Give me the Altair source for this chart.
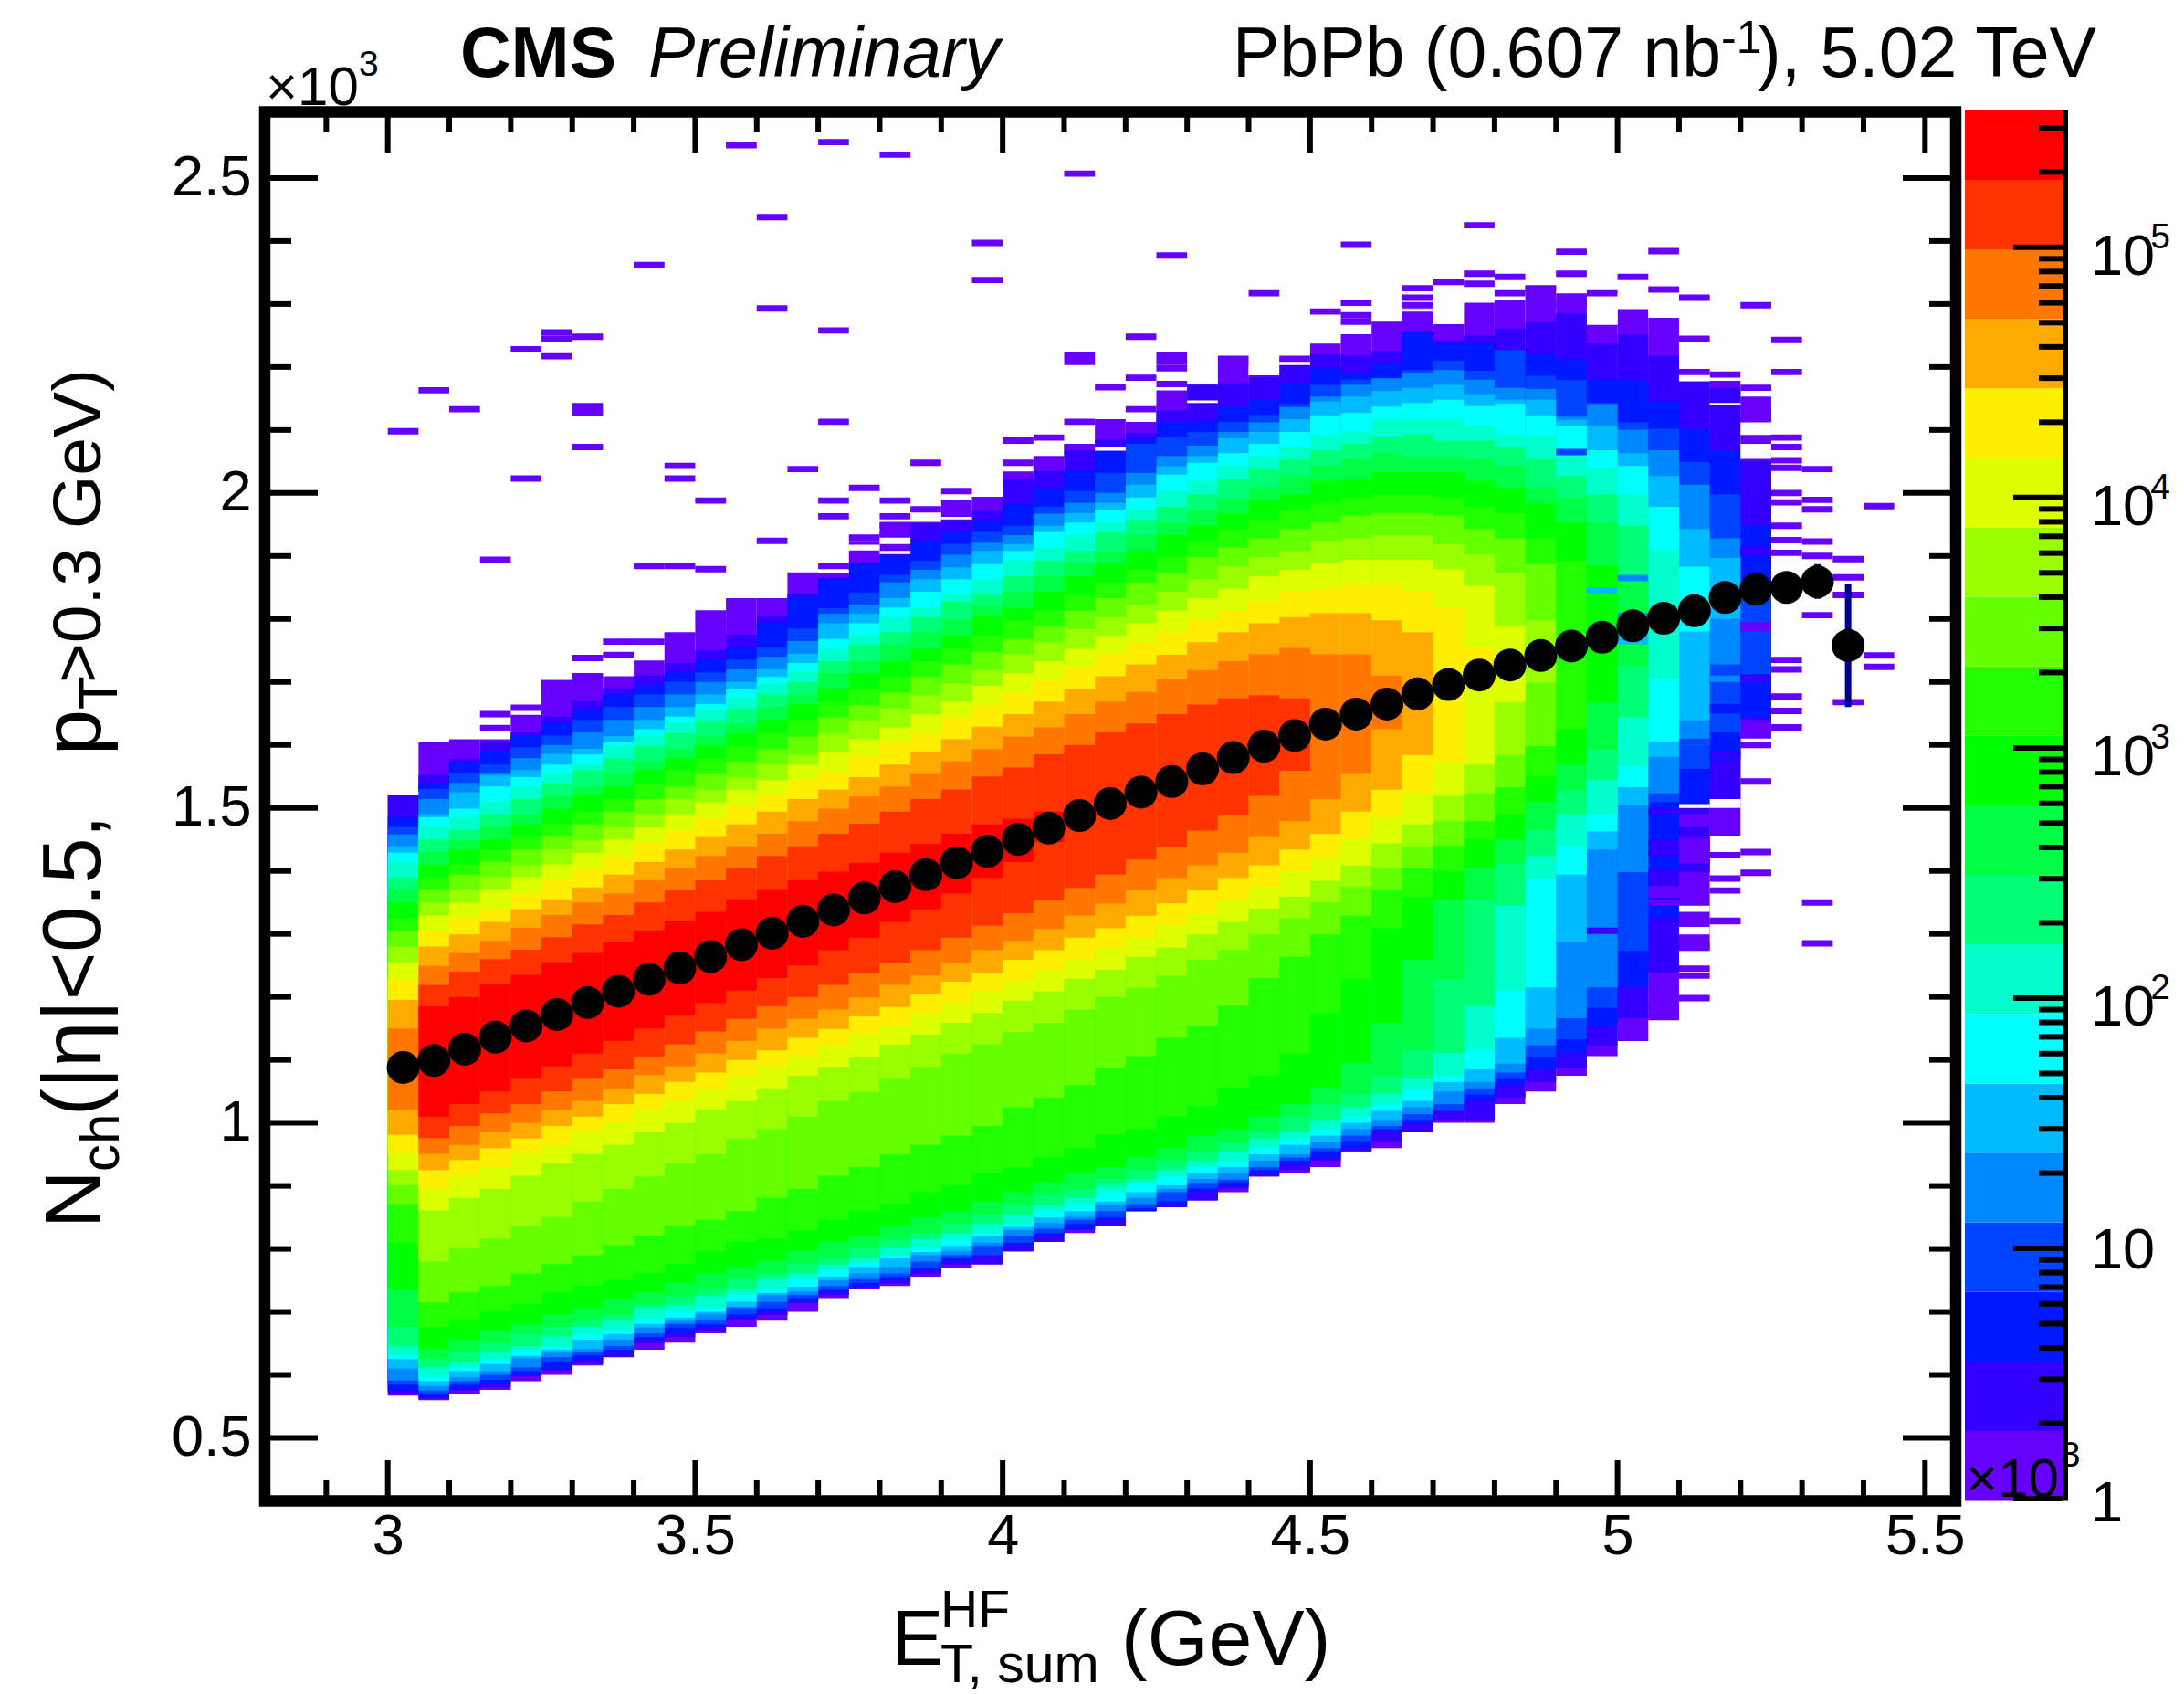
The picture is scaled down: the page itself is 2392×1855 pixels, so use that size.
import altair as alt
import pandas as pd

FONT = "Liberation Sans"
PALETTE = ["#6600ff", "#3300ff", "#0018ff", "#0044ff", "#0088ff", "#00bbff", "#00ffff", "#00ffcc",
           "#00ff77", "#00ff44", "#00ff00", "#22ff00", "#66ff00", "#99ff00", "#ddff00", "#ffee00",
           "#ffaa00", "#ff7700", "#ff3300", "#ff0000"]

# Each level: first column (bin of 0.05 from 3.0), upper and lower Nch edge per column.
U01 = [1525,1604,1609,1609,1648,1703,1714,1709,1734,1778,1814,1833,1833,1874,1874,1909,1954,1954,1988,1994,2034,2059,2078,2117,2113,2163,2172,2218,2187,2218,2237,2252,2272,2292,2290,2302,2307,2328,2317,2267,2292,2278,2177,2178,2153]
L01 = [567,560,570,576,590,600,615,630,640,651,666,676,686,700,722,736,741,756,770,775,796,811,825,836,860,866,877,890,915,920,930,955,960,985,1000,1000,1030,1050,1075,1106,1130,1166,1273,1456,1610]
U02 = [1520,1552,1578,1605,1620,1645,1670,1690,1710,1730,1750,1775,1805,1840,1866,1890,1905,1952,1957,1972,2022,2035,2068,2085,2095,2131,2172,2174,2184,2203,2220,2218,2225,2232,2242,2250,2261,2271,2285,2237,2252,2218,2177,2167,2051]
L02 = [570,562,575,580,598,607,620,628,650,660,670,688,695,715,727,738,745,760,775,776,796,811,831,836,860,866,877,896,915,925,940,955,971,985,1005,1005,1040,1065,1087,1123,1166,1239,1398,1514,1640]
U03 = [1485,1538,1572,1588,1615,1635,1655,1680,1695,1715,1735,1755,1795,1835,1863,1887,1900,1925,1938,1957,1982,2008,2035,2066,2085,2112,2114,2136,2148,2173,2198,2191,2206,2256,2237,2237,2227,2220,2213,2180,2179,2145,2102,2068,1948]
L03 = [575,565,578,586,600,610,625,635,656,666,676,691,701,715,732,740,750,766,780,790,806,820,831,845,860,871,891,900,920,935,945,960,985,1000,1019,1035,1060,1085,1111,1152,1215,1326,1504,1576,1644]
U04 = [1470,1530,1555,1569,1596,1615,1640,1660,1680,1700,1715,1735,1755,1785,1817,1842,1870,1892,1919,1938,1948,1978,2003,2032,2078,2088,2097,2113,2124,2141,2172,2180,2182,2195,2210,2194,2227,2186,2179,2143,2112,2102,2049,1998,1850]
L04 = [585,570,585,592,606,621,631,640,660,675,680,696,706,722,735,746,755,770,785,790,810,825,840,850,865,876,896,906,925,940,955,971,990,1005,1019,1045,1070,1104,1133,1183,1273,1509,1562,1620,1700]
U05 = [1458,1514,1540,1555,1579,1600,1620,1640,1660,1680,1700,1720,1740,1765,1808,1823,1858,1878,1902,1921,1933,1967,1984,2000,2032,2059,2075,2097,2112,2136,2153,2172,2182,2191,2195,2180,2167,2165,2121,2141,2100,2068,2013,1928]
L05 = [591,575,590,600,612,628,636,646,666,681,687,706,716,727,741,752,761,780,790,805,820,832,846,860,871,890,905,910,930,945,960,980,995,1014,1030,1055,1080,1123,1166,1215,1398,1523,1600,1728]
U06 = [1439,1490,1525,1552,1560,1586,1594,1614,1640,1660,1680,1700,1720,1745,1793,1808,1833,1863,1882,1908,1919,1948,1968,1984,2013,2043,2059,2087,2097,2117,2145,2153,2162,2167,2172,2157,2148,2148,2116,2107,2063,2027,1943,1897]
L06 = [610,582,596,606,626,636,641,656,675,686,696,708,727,732,750,761,771,790,796,810,830,841,851,870,881,895,911,920,940,950,970,990,1005,1025,1050,1065,1094,1150,1287,1434,1504,1581,1639,1800]
U07 = [1429,1485,1499,1534,1549,1569,1585,1604,1625,1645,1665,1688,1708,1730,1768,1793,1818,1843,1863,1887,1908,1938,1953,1973,1993,2029,2048,2063,2078,2097,2123,2127,2137,2143,2148,2138,2142,2123,2107,2068,2043,1978,1883]
L07 = [625,590,606,617,630,640,656,665,681,691,700,716,730,740,756,771,785,795,805,820,835,850,860,875,890,901,920,930,950,965,980,1000,1019,1035,1065,1085,1135,1215,1394,1463,1533,1605,1780]
U08 = [1414,1470,1485,1510,1534,1555,1569,1599,1615,1635,1655,1675,1697,1717,1752,1773,1803,1818,1839,1863,1893,1913,1933,1953,1973,2003,2019,2043,2058,2073,2092,2098,2117,2117,2117,2107,2092,2092,2068,2039,1998,1909]
L08 = [631,597,612,625,640,645,665,671,690,700,706,727,737,752,766,778,790,801,815,825,840,860,871,890,905,915,930,940,960,975,990,1010,1030,1055,1075,1116,1210,1388,1440,1490,1567,1706]
U09 = [1390,1450,1465,1490,1515,1539,1560,1579,1599,1619,1639,1658,1680,1700,1733,1759,1779,1803,1828,1839,1868,1893,1908,1938,1958,1978,1998,2022,2038,2053,2068,2078,2088,2093,2083,2083,2073,2054,2027,1998,1948]
L09 = [645,612,621,636,645,661,676,686,706,711,725,737,752,761,775,785,801,815,825,840,855,870,881,900,911,925,940,955,975,985,1005,1025,1046,1070,1111,1186,1345,1424,1490,1545,1644]
U10 = [1370,1430,1449,1470,1490,1518,1534,1555,1574,1594,1614,1634,1660,1680,1714,1733,1759,1779,1799,1822,1843,1868,1888,1908,1933,1953,1973,1990,2010,2028,2043,2053,2063,2058,2058,2053,2043,2010,1993,1953,1861]
L10 = [676,625,636,650,665,676,686,696,712,725,737,752,761,776,785,801,815,825,840,855,870,885,895,911,925,940,955,969,985,1010,1030,1046,1075,1116,1229,1355,1412,1465,1528,1593,1725]
U11 = [1350,1410,1434,1450,1474,1499,1520,1534,1560,1579,1599,1619,1640,1665,1690,1714,1733,1753,1774,1804,1818,1843,1868,1888,1908,1933,1948,1968,1989,1998,2019,2022,2033,2033,2033,2019,2008,1983,1953,1885]
L11 = [736,641,656,671,681,696,706,720,731,746,761,771,781,796,811,820,836,850,860,875,890,906,920,930,945,960,980,990,1010,1030,1056,1095,1159,1259,1355,1405,1450,1509,1569,1668]
U12 = [1325,1390,1410,1434,1454,1475,1494,1514,1539,1560,1579,1599,1619,1640,1669,1689,1708,1733,1753,1774,1798,1814,1838,1858,1878,1899,1923,1943,1958,1973,1983,1993,1998,1998,1993,1978,1968,1928,1892]
L12 = [810,676,686,701,712,731,741,751,761,776,796,811,816,830,846,860,871,890,901,920,930,945,960,981,990,1010,1027,1056,1075,1110,1174,1229,1309,1359,1400,1450,1490,1550,1625]
U13 = [1305,1370,1394,1414,1434,1455,1474,1494,1514,1534,1554,1574,1593,1613,1644,1663,1683,1708,1728,1748,1768,1789,1813,1833,1858,1873,1898,1913,1928,1943,1953,1964,1968,1968,1964,1943,1928,1887]
L13 = [871,715,731,741,761,776,790,806,821,836,846,860,881,895,916,930,950,965,980,995,1025,1040,1060,1087,1106,1135,1154,1186,1230,1264,1299,1329,1369,1404,1440,1479,1533,1598]
U14 = [1280,1350,1370,1390,1409,1434,1448,1469,1490,1514,1529,1549,1569,1584,1619,1639,1658,1679,1698,1719,1744,1763,1784,1803,1823,1843,1863,1883,1898,1908,1924,1928,1933,1933,1919,1903,1873,1798]
L14 = [901,780,801,816,836,850,875,895,915,936,950,975,990,1010,1035,1049,1070,1089,1110,1125,1144,1159,1180,1200,1215,1234,1259,1275,1299,1325,1350,1375,1404,1439,1479,1523,1584,1699]
U15 = [1255,1329,1350,1370,1390,1410,1429,1450,1469,1490,1509,1529,1544,1569,1588,1609,1628,1649,1669,1694,1714,1733,1753,1773,1793,1813,1833,1848,1868,1878,1888,1894,1894,1894,1879,1853,1789]
L15 = [925,861,881,895,916,936,951,965,985,1000,1020,1035,1055,1075,1089,1104,1124,1140,1159,1174,1194,1209,1229,1243,1264,1278,1299,1319,1340,1359,1384,1409,1444,1474,1519,1569,1668]
U16 = [1229,1305,1325,1340,1364,1385,1404,1424,1444,1464,1484,1504,1519,1544,1558,1583,1604,1619,1644,1663,1683,1703,1723,1744,1763,1779,1798,1813,1829,1843,1848,1854,1854,1843,1818,1755]
L16 = [951,895,915,930,951,965,985,1000,1020,1035,1055,1075,1090,1105,1124,1140,1154,1174,1189,1209,1224,1243,1259,1278,1294,1314,1333,1355,1375,1399,1420,1450,1484,1523,1573,1690]
U17 = [1195,1280,1299,1319,1339,1355,1374,1394,1414,1434,1454,1474,1494,1514,1529,1549,1569,1588,1609,1629,1649,1669,1689,1709,1728,1743,1763,1779,1793,1803,1809,1809,1798,1779]
L17 = [981,925,941,960,975,995,1010,1030,1046,1065,1080,1100,1115,1135,1149,1169,1184,1204,1224,1238,1259,1274,1294,1309,1329,1349,1369,1389,1409,1434,1459,1494,1529,1584]
U18 = [1150,1249,1270,1289,1310,1330,1350,1364,1385,1404,1424,1439,1459,1479,1499,1518,1534,1554,1574,1593,1613,1628,1649,1669,1684,1704,1719,1733,1744,1754,1744,1744,1710]
L18 = [1021,951,965,985,1000,1020,1035,1055,1076,1090,1110,1130,1150,1165,1180,1199,1219,1234,1254,1274,1289,1308,1329,1348,1369,1389,1409,1429,1454,1479,1514,1554,1625]
U19 = [1219,1240,1260,1275,1295,1315,1330,1350,1369,1385,1404,1424,1439,1459,1475,1494,1514,1529,1550,1564,1585,1600,1620,1634,1649,1664,1674,1679,1674]
L19 = [976,995,1015,1030,1050,1070,1085,1105,1125,1145,1165,1185,1200,1219,1238,1254,1274,1294,1313,1333,1353,1373,1394,1418,1438,1464,1488,1519,1559]
U20 = [1185,1200,1220,1235,1255,1270,1288,1305,1320,1335,1355,1370,1385,1399,1413,1429,1443,1459,1474,1483,1494]
L20 = [1010,1030,1050,1070,1090,1110,1130,1150,1170,1190,1210,1230,1250,1274,1294,1319,1339,1364,1389,1414,1446]
LEVEL_FIRST_COL = [0]*18 + [1, 1]
UPPERS = [U01,U02,U03,U04,U05,U06,U07,U08,U09,U10,U11,U12,U13,U14,U15,U16,U17,U18,U19,U20]
LOWERS = [L01,L02,L03,L04,L05,L06,L07,L08,L09,L10,L11,L12,L13,L14,L15,L16,L17,L18,L19,L20]

# Isolated single-count bins: column, Nch centre
OUT_COL = [11,14,16,22,12,19,25,8,19,28,12,14,5,5,6,4,5,1,2,6,6,0,6,14,22,22,22,24,25,25,25,24,23,25,24,20,21,22,20,9,9,4,13,17,15,18,10,14,16,14,16,17,16,15,15,16,12,16,3,8,9,10,14,7,8,9,7,6,5,5,4,3,3,
           35,31,38,41,38,35,44,31,30,31,31,33,33,33,34,35,36,36,37,38,39,40,41,42,42,45,45,43,42,
           44,44,44,45,45,45,45,45,45,45,45,45,45,45,45,45,45,44,44,44,44,
           46,46,46,46,46,46,46,46,48,48,48,47,47,47,47,
           43,43,43,43,43,43,42,42,42,42,42,41,41,38,0]
OUT_N = [2552,2557,2537,2507,2438,2397,2377,2362,2338,2317,2293,2258,2255,2245,2248,2228,2217,2163,2133,2138,2128,2098,2073,2113,2113,2218,2208,2248,2218,2208,2198,2183,2168,2173,2133,2083,2088,2073,2048,2043,2023,2023,2038,2048,2008,2003,1988,1988,1988,1963,1963,1974,1948,1929,1919,1934,1924,1913,1894,1884,1884,1879,1884,1764,1764,1774,1743,1738,1698,1688,1659,1649,1627,
         2425,2394,2383,2384,2348,2348,2298,2302,2288,2282,2272,2325,2310,2298,2335,2332,2343,2317,2325,2300,2317,2343,2323,2310,2245,2192,2243,2188,2192,
         2167,2132,2115,2088,2073,2052,2040,2000,1985,1948,1925,1905,1735,1720,1677,1654,1628,1600,1430,1542,1397,1350,1285,
         2038,1989,1974,1923,1900,1806,1742,1724,1979,1866,1668,1895,1838,1765,1320,
         1425,1388,1369,1321,1304,1280,1245,1234,1198,1185,1168,1141,1112,1100,1535]

# Empty bins inside the outer purple fringe: column, low, high
HOLE_COL = [26,28,29,33,34,39,40,41,43,44,44,42,14,16,16,18,15,23,42,42,42,43,0]
HOLE_LO = [2143,2187,2203,2288,2268,2268,2308,2278,2140,2092,2054,2178,1873,1919,1903,1958,1909,2067,1500,1335,1299,1500,1520]
HOLE_HI = [2147,2202,2208,2292,2307,2292,2317,2302,2143,2112,2078,2186,1877,1929,1908,1962,1918,2073,1506,1345,1311,1514,1526]

# Fluctuating bins in the fringe: column, low, high, palette index
STRIPE_COL = [41,41,41,41,41,42,42,42,43,43,43,40,40,40,39,39,38,44,44,44]
STRIPE_LO = [1490,1424,1376,1357,1345,1470,1412,1600,1700,1650,1580,1800,1760,1860,1840,1300,2060,1900,1780,1700]
STRIPE_HI = [1499,1449,1403,1376,1355,1490,1453,1610,1710,1665,1590,1810,1775,1870,1850,1310,2070,1915,1795,1712]
STRIPE_IDX = [1,1,1,0,0,0,0,3,4,2,1,4,5,4,5,1,3,1,0,1]

# Mean Nch per column
DOT_COL = list(range(48))
DOT_N = [1088,1099,1117,1136,1154,1172,1191,1209,1228,1246,1264,1283,1301,1320,1338,1357,1375,1394,1413,1431,1450,1468,1488,1507,1525,1542,1562,1580,1598,1615,1633,1649,1665,1681,1696,1711,1727,1742,1757,1771,1789,1801,1813,1834,1847,1850,1859,1758]
ERR_COL = [46, 47]
ERR_LO = [1832, 1660]
ERR_HI = [1887, 1855]

X_MAJOR = [3, 3.5, 4, 4.5, 5, 5.5]
X_MINOR = [2.9,3.1,3.2,3.3,3.4,3.6,3.7,3.8,3.9,4.1,4.2,4.3,4.4,4.6,4.7,4.8,4.9,5.1,5.2,5.3,5.4]
Y_MAJOR = [500, 1000, 1500, 2000, 2500]
Y_MINOR = [600,700,800,900,1100,1200,1300,1400,1600,1700,1800,1900,2100,2200,2300,2400]

BAR_EDGES = [0.98,1.865,3.53,6.70,12.7,24.1,45.6,86.5,164,311,589,1116,2115,4010,7600,14400,27300,51700,98100,186000,352000]
BAR_MAJOR = [1, 10, 100, 1000, 10000, 100000]
BAR_MINOR = [2,3,4,5,6,7,8,9,20,30,40,50,60,70,80,90,200,300,400,500,600,700,800,900,
             2000,3000,4000,5000,6000,7000,8000,9000,20000,30000,40000,50000,60000,70000,80000,90000,
             200000,300000]

W, H = 1852, 1521
ORIGIN_X, ORIGIN_Y = 290, 122.5

rows = []
for col, n in zip(OUT_COL, OUT_N):
    rows.append(dict(x0=3 + 0.05 * col, x1=3.05 + 0.05 * col, y0=n - 5, y1=n + 5, color=PALETTE[0]))
for i, (first, ups, lows) in enumerate(zip(LEVEL_FIRST_COL, UPPERS, LOWERS)):
    for j, (u, l) in enumerate(zip(ups, lows)):
        c = first + j
        rows.append(dict(x0=3 + 0.05 * c, x1=3.05 + 0.05 * c, y0=l, y1=u, color=PALETTE[i]))
for c, lo, hi, k in zip(STRIPE_COL, STRIPE_LO, STRIPE_HI, STRIPE_IDX):
    rows.append(dict(x0=3 + 0.05 * c, x1=3.05 + 0.05 * c, y0=lo, y1=hi, color=PALETTE[k]))
for c, lo, hi in zip(HOLE_COL, HOLE_LO, HOLE_HI):
    rows.append(dict(x0=3 + 0.05 * c, x1=3.05 + 0.05 * c, y0=lo, y1=hi, color="#ffffff"))
heat_df = pd.DataFrame(rows)

x_scale = alt.Scale(domain=[2.8, 5.55], nice=False, zero=False)
y_scale = alt.Scale(domain=[400, 2605], nice=False, zero=False)

axis_common = dict(domain=False, ticks=False, grid=False, title=None, labelFont=FONT, labelFontSize=63,
                   labelColor="black", labelOverlap=False, labelFlush=False)

heat = alt.Chart(heat_df).mark_rect().encode(
    x=alt.X("x0:Q", scale=x_scale, axis=alt.Axis(values=X_MAJOR, labelPadding=8, labelExpr="datum.value + ''", **axis_common)),
    x2="x1:Q",
    y=alt.Y("y0:Q", scale=y_scale, axis=alt.Axis(values=Y_MAJOR, labelPadding=15, labelExpr="datum.value / 1000 + ''", **axis_common)),
    y2="y1:Q",
    color=alt.Color("color:N", scale=None),
)

dots_df = pd.DataFrame({"x": [3.025 + 0.05 * c for c in DOT_COL], "y": DOT_N})
err_df = pd.DataFrame({"x": [3.025 + 0.05 * c for c in ERR_COL], "lo": ERR_LO, "hi": ERR_HI})
err = alt.Chart(err_df).mark_rule(color="#000090", strokeWidth=7).encode(
    x=alt.X("x:Q", scale=x_scale), y=alt.Y("lo:Q", scale=y_scale), y2="hi:Q")
dots = alt.Chart(dots_df).mark_circle(color="black", opacity=1, size=1296).encode(
    x=alt.X("x:Q", scale=x_scale), y=alt.Y("y:Q", scale=y_scale))


def xticks(values, length, at_top):
    df = pd.DataFrame({"v": values})
    a, b = (0, length) if at_top else (H, H - length)
    return alt.Chart(df).mark_rule(color="black", strokeWidth=6).encode(
        x=alt.X("v:Q", scale=x_scale), y=alt.value(a), y2=alt.value(b))


def yticks(values, length, at_left):
    df = pd.DataFrame({"v": values})
    a, b = (0, length) if at_left else (W, W - length)
    return alt.Chart(df).mark_rule(color="black", strokeWidth=6).encode(
        y=alt.Y("v:Q", scale=y_scale), x=alt.value(a), x2=alt.value(b))


def label(text, px, py, size, font=FONT, **kw):
    kw.setdefault("align", "left")
    kw.setdefault("baseline", "alphabetic")
    return alt.Chart(pd.DataFrame({"t": [text]})).mark_text(
        font=font, fontSize=size, color="black", **kw
    ).encode(text="t:N", x=alt.value(px - ORIGIN_X), y=alt.value(py - ORIGIN_Y))


texts = [
    label("CMS", 504, 84, 77, fontWeight="bold"),
    label("Preliminary", 710, 84, 77, fontStyle="italic"),
    label("PbPb (0.607 nb", 1350, 84, 77),
    label("-1", 1885, 58, 50),
    label("), 5.02 TeV", 1925, 84, 77),
    label("×10", 291, 115, 60),
    label("3", 393, 83, 39),
    label("E", 976, 1823, 86),
    label("HF", 1030, 1782, 57),
    label("T, sum", 1030, 1842, 59),
    label("(GeV)", 1228, 1823, 86),
    label("N", 110, 1345, 88, angle=270),
    label("ch", 130, 1283, 60, angle=270),
    label("(|η|<0.5,", 110, 1222, 90, angle=270),
    label("p", 110, 827, 90, angle=270),
    label("T", 128, 777, 60, angle=270),
    label(">0.3 GeV)", 110, 748, 75, angle=270),
]

main = alt.layer(
    heat, err, dots,
    xticks(X_MAJOR, 44.5, True), xticks(X_MINOR, 22.5, True),
    xticks(X_MAJOR, 44.5, False), xticks(X_MINOR, 22.5, False),
    yticks(Y_MAJOR, 58, True), yticks(Y_MINOR, 29, True),
    yticks(Y_MAJOR, 58, False), yticks(Y_MINOR, 29, False),
    *texts,
)

# Colour bar on its own scales, placed to the right of the frame
bx = alt.Scale(domain=[0, 1], range=[1862, 1969], nice=False, zero=False)
by = alt.Scale(type="log", domain=[0.98, 352000], range=[1521, -1.5], nice=False)

bar_df = pd.DataFrame({"a": BAR_EDGES[:-1], "b": BAR_EDGES[1:], "color": PALETTE, "l": [0] * 20, "r": [1] * 20})
bar = alt.Chart(bar_df).mark_rect().encode(
    x=alt.X("l:Q", scale=bx, axis=None), x2="r:Q",
    y=alt.Y("a:Q", scale=by, axis=None), y2="b:Q",
    color=alt.Color("color:N", scale=None),
)


def bar_ticks(values, start):
    df = pd.DataFrame({"v": values, "l": [start] * len(values), "r": [1] * len(values)})
    return alt.Chart(df).mark_rule(color="black", strokeWidth=6).encode(
        y=alt.Y("v:Q", scale=by, axis=None), x=alt.X("l:Q", scale=bx, axis=None), x2="r:Q")


bar_line = alt.Chart(pd.DataFrame({"a": [0.98], "b": [352000], "x": [1.028]})).mark_rule(color="black", strokeWidth=6).encode(
    x=alt.X("x:Q", scale=bx, axis=None), y=alt.Y("a:Q", scale=by, axis=None), y2="b:Q")


def bar_text(texts, values, xs, size, dy):
    df = pd.DataFrame({"t": texts, "v": values, "x": xs})
    return alt.Chart(df).mark_text(font=FONT, fontSize=size, color="black", align="left",
                                   baseline="alphabetic", dy=dy).encode(
        text="t:N", y=alt.Y("v:Q", scale=by, axis=None), x=alt.X("x:Q", scale=bx, axis=None))


bar_layers = alt.layer(
    bar, bar_line, bar_ticks(BAR_MAJOR, 0.495), bar_ticks(BAR_MINOR, 0.757),
    bar_text(["1"], [1], [1.29], 63, 25),
    bar_text(["10"], [10], [1.29], 63, 22),
    bar_text(["10"] * 4, [100, 1000, 10000, 100000], [1.29] * 4, 63, 30),
    bar_text(["2", "3", "4", "5"], [100, 1000, 10000, 100000], [1.90] * 4, 39, 1),
    bar_text(["×10"], [1], [0.01], 60, -2),
    bar_text(["3"], [1], [0.98], 39, -35),
)

chart = alt.layer(main, bar_layers).resolve_scale(x="independent", y="independent").properties(
    width=W, height=H,
    autosize=alt.AutoSizeParams(type="none"),
    padding={"left": 282, "top": 114.5, "right": 242, "bottom": 211},
    background="white",
).configure_view(stroke="black", strokeWidth=12.5)

chart.save("out.html", embed_options={"renderer": "svg", "actions": False})
